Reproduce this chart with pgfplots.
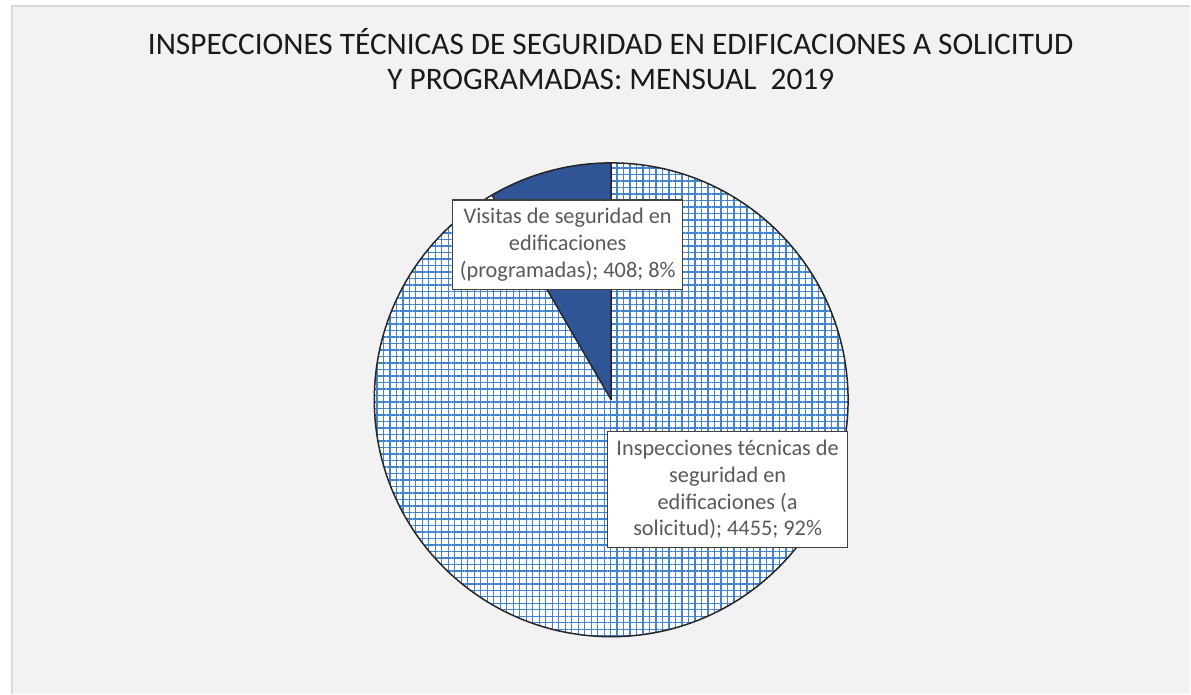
\documentclass[border=0pt]{standalone}
\usepackage{pgfplots}
\pgfplotsset{compat=1.18}
\usepackage{pgfplotstable}
\usepackage{fontspec}
\setmainfont{Carlito}
\usetikzlibrary{patterns.meta}

\definecolor{bgc}{HTML}{F2F2F2}
\definecolor{bordc}{HTML}{D9D9D9}
\definecolor{gridc}{HTML}{4283CC}
\definecolor{darkc}{HTML}{2F5597}
\definecolor{labc}{HTML}{595959}
\definecolor{titc}{HTML}{1A1A1A}

% data: value of each slice
\pgfplotstableread{
name        value
programadas 408
solicitud   4455
}\pietable

\begin{document}
\begin{tikzpicture}
\pgfplotstablegetelem{0}{value}\of\pietable \let\vA\pgfplotsretval
\pgfplotstablegetelem{1}{value}\of\pietable \let\vB\pgfplotsretval
\pgfmathsetmacro\fracA{\vA/(\vA+\vB)}
\pgfmathsetmacro\endA{90+360*\fracA}
\def\R{118.5bp}
\begin{axis}[
    width=595.5bp, height=347bp, scale only axis,
    xmin=0, xmax=1191, ymin=0, ymax=694,
    y dir=reverse,
    hide axis, clip=false,
]
% background
\fill[white] (axis cs:0,0) rectangle (axis cs:1191,694);
\fill[bgc] (axis cs:12,6) rectangle (axis cs:1191,694);
\draw[bordc, line width=0.6bp] (axis cs:12,694) -- (axis cs:12,6) -- (axis cs:1191,6);

% title
\node[font=\fontsize{15.7}{17.5}\selectfont, text=titc, anchor=base] at (axis cs:611,55)
  {INSPECCIONES TÉCNICAS DE SEGURIDAD EN EDIFICACIONES A SOLICITUD};
\node[font=\fontsize{15.7}{17.5}\selectfont, text=titc, anchor=base] at (axis cs:611,90)
  {Y PROGRAMADAS: MENSUAL\ \ 2019};

% pie: large slice (patterned) and small slice (solid)
\fill[white] (axis cs:611.5,400) circle[radius=\R];
\fill[pattern={Hatch[angle=0,distance=3.25bp,line width=0.7bp]}, pattern color=gridc]
  (axis cs:611.5,400) circle[radius=\R];
\fill[darkc] (axis cs:611.5,400) -- ++(90:\R) arc[start angle=90, end angle=\endA, radius=\R] -- cycle;
\draw[black!85, line width=0.75bp] (axis cs:611.5,400) circle[radius=\R];
\draw[black!85, line width=0.75bp] (axis cs:611.5,400) -- ++(90:\R)
  (axis cs:611.5,400) -- ++(\endA:\R);

% data labels
\node[draw=black!75, fill=white, line width=0.6bp, align=center, text=labc,
  font=\fontsize{11.2}{13.5}\selectfont, minimum width=115bp, minimum height=45bp, inner sep=2bp]
  at (axis cs:568,245)
  {Visitas de seguridad en\\edificaciones\\(programadas); 408; 8\%};
\node[draw=black!75, fill=white, line width=0.6bp, align=center, text=labc,
  font=\fontsize{11.2}{13.4}\selectfont, minimum width=120bp, minimum height=58bp, inner sep=2bp]
  at (axis cs:728,490)
  {Inspecciones técnicas de\\seguridad en\\edificaciones (a\\solicitud); 4455; 92\%};
\end{axis}
\end{tikzpicture}
\end{document}
